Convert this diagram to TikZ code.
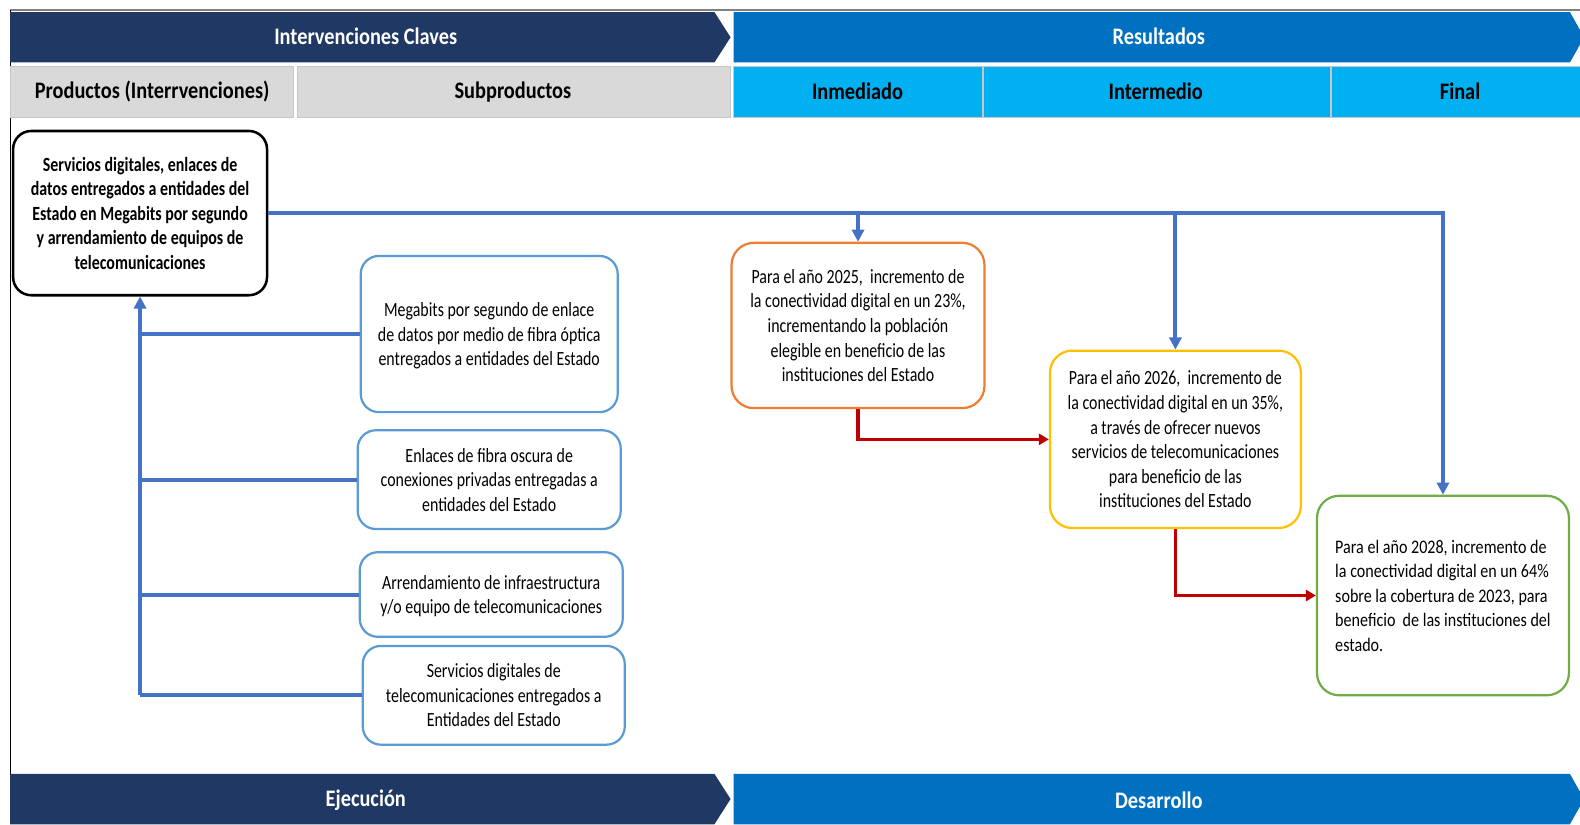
\documentclass[tikz,border=0pt]{standalone}
\usepackage{fontspec}
\setmainfont{Carlito}
\newfontfamily\bodyf{Carlito}[FakeStretch=0.79]
\newfontfamily\headf{Carlito}[FakeStretch=0.86]
\newfontfamily\greenf{Carlito}[FakeStretch=0.84]
\usetikzlibrary{arrows.meta}
\definecolor{navy}{HTML}{203864}
\definecolor{bandblue}{HTML}{0070C0}
\definecolor{cyanb}{HTML}{00B0F0}
\definecolor{grayb}{HTML}{D9D9D9}
\definecolor{lineblue}{HTML}{4472C4}
\definecolor{subblue}{HTML}{5B9BD5}
\definecolor{orangeb}{HTML}{ED7D31}
\definecolor{yellowb}{HTML}{FFC000}
\definecolor{greenb}{HTML}{70AD47}
\definecolor{redl}{HTML}{C00000}
\tikzset{
  bodytxt/.style={font=\bodyf\fontsize{20}{24.4}\selectfont, align=center},
  headtxt/.style={font=\headf\bfseries\fontsize{23.5}{26}\selectfont},
  rbox/.style={bodytxt, rounded corners=18pt, inner sep=0pt, fill=white, text depth=0pt},
  subbox/.style={rbox, draw=subblue, line width=2.2pt},
  cell/.style={draw=#1, line width=0.8pt, inner sep=0pt, anchor=north west},
  bl/.style={draw=lineblue, line width=4pt},
  blarrow/.style={bl, -{Triangle[length=12pt,width=12pt]}},
  redarrow/.style={draw=redl, line width=3.5pt, -{Triangle[length=10pt,width=11pt]}},
}
\begin{document}
\begin{tikzpicture}[x=1pt,y=-1pt]
\useasboundingbox (0,0) rectangle (1568,818);
\fill[white] (0,0) rectangle (1568,818);
% frame
\draw[gray, line width=1.5pt] (10,10) -- (1568,10);
\draw[black, line width=1pt] (10,10) -- (10,818);
% top banners
\fill[navy] (10,12) -- (709,12) -- (725,37) -- (709,62) -- (10,62) -- cycle;
\fill[bandblue] (728,12) -- (1558,12) -- (1572,37) -- (1558,62) -- (728,62) -- cycle;
\node[headtxt, text=white] (tIC) at (363,36) {Intervenciones Claves};
\node[headtxt, text=white] (tRes) at (1150,36) {Resultados};
% second row
\path[cell=gray!45, fill=grayb] (10,66) rectangle (291,117);
\path[cell=gray!45, fill=grayb] (295,66) rectangle (725,117);
\path[cell=gray!45, fill=cyanb] (728,66) rectangle (975,117);
\path[cell=gray!45, fill=cyanb] (976,66) rectangle (1320,117);
\path[cell=gray!45, fill=cyanb] (1321,66) rectangle (1570,117);
\node[headtxt] (hProd) at (151,91) {Productos (Interrvenciones)};
\node[headtxt] (hSub) at (509,91) {Subproductos};
\node[headtxt] (hInm) at (851,91) {Inmediado};
\node[headtxt] (hInt) at (1147,91) {Intermedio};
\node[headtxt] (hFin) at (1449,91) {Final};
% bottom banners
\fill[navy] (10,768) -- (709,768) -- (725,793) -- (709,818) -- (10,818) -- cycle;
\fill[bandblue] (728,768) -- (1558,768) -- (1572,793) -- (1558,818) -- (728,818) -- cycle;
\node[headtxt, text=white] (tEje) at (363,794) {Ejecución};
\node[headtxt, text=white] (tDes) at (1150,794) {Desarrollo};
% main product box
\fill[lineblue] (12,212) -- (18,207) -- (18,217) -- cycle;
\node[rbox, draw=black, line width=2.5pt, minimum width=252pt, minimum height=163pt,
      font=\bodyf\bfseries\fontsize{20}{24.4}\selectfont] (main) at (139,211.5)
  {Servicios digitales, enlaces de\\datos entregados a entidades del\\Estado en Megabits por segundo\\y arrendamiento de equipos de\\telecomunicaciones};
% subproducts
\node[subbox, minimum width=255pt, minimum height=155pt] (s1) at (485.5,331.5)
  {Megabits por segundo de enlace\\de datos por medio de fibra óptica\\entregados a entidades del Estado};
\node[subbox, minimum width=261pt, minimum height=98pt] (s2) at (485.5,476)
  {Enlaces de fibra oscura de\\conexiones privadas entregadas a\\entidades del Estado};
\node[subbox, minimum width=261pt, minimum height=84pt] (s3) at (487.5,590)
  {Arrendamiento de infraestructura\\y/o equipo de telecomunicaciones};
\node[subbox, minimum width=260pt, minimum height=98pt] (s4) at (490,690)
  {Servicios digitales de\\telecomunicaciones entregados a\\Entidades del Estado};
% results
\node[rbox, draw=orangeb, line width=2.2pt, rounded corners=22pt, minimum width=251pt, minimum height=164pt] (r1) at (851.5,323)
  {Para el año 2025,\ \ incremento de\\la conectividad digital en un 23\%,\\incrementando la población\\elegible en beneficio de las\\instituciones del Estado};
\node[rbox, draw=yellowb, line width=2.2pt, rounded corners=22pt, minimum width=249pt, minimum height=176pt] (r2) at (1166.5,436)
  {Para el año 2026,\ \ incremento de\\la conectividad digital en un 35\%,\\a través de ofrecer nuevos\\servicios de telecomunicaciones\\para beneficio de las\\instituciones del Estado};
\node[rbox, draw=greenb, line width=2.2pt, rounded corners=22pt, minimum width=250pt, minimum height=198pt, align=left,
      font=\greenf\fontsize{19}{24.4}\selectfont] (r3) at (1432,591)
  {Para el año 2028, incremento de\\la conectividad digital en un 64\%\\sobre la cobertura de 2023, para\\beneficio\ \ de las instituciones del\\estado.};
% blue connectors (top)
\coordinate (jR) at (r3.north |- main.east);
\coordinate (j1) at (r1.north |- main.east);
\coordinate (j2) at (r2.north |- main.east);
\draw[blarrow] (main.east) -- (jR) -- (r3.north);
\draw[blarrow] (j1) -- (r1.north);
\draw[blarrow] (j2) -- (r2.north);
% blue connectors (left)
\coordinate (lb) at (main.south |- s4.west);
\draw[blarrow] (lb) -- (main.south);
\draw[bl] (s1.west -| main.south) -- (s1.west);
\draw[bl] (s2.west -| main.south) -- (s2.west);
\draw[bl] (s3.west -| main.south) -- (s3.west);
\draw[bl] (lb) -- (s4.west);
% red connectors
\draw[redarrow] (r1.south) |- (r2.west);
\draw[redarrow] (r2.south) |- (r3.west);
\end{tikzpicture}
\end{document}
